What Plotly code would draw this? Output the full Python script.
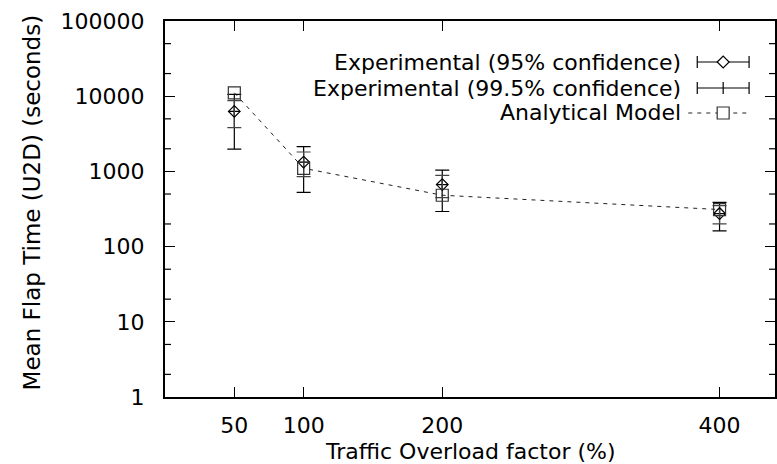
import math
import plotly.graph_objects as go

# ---- data ----
overload = [50, 100, 200, 400]
exp_mean = [6280, 1330, 668, 275]
ci95_half = [2450, 480, 220, 75]
ci995_half = [4300, 805, 375, 113]
model_vals = [11100, 1100, 482, 311]

x_ticks = [50, 100, 200, 400]
y_minor = [2, 5, 20, 50, 200, 500, 2000, 5000, 20000, 50000]

legend_labels = ["Experimental (95% confidence)",
                 "Experimental (99.5% confidence)",
                 "Analytical Model"]
x_title = "Traffic Overload factor (%)"
y_title = "Mean Flap Time (U2D) (seconds)"

FONT = "DejaVu Sans, Liberation Sans, Arial, sans-serif"
FS = 22
W, H = 777, 464
L, R, T, B = 165, 0, 21, 67
PW, PH = W - L - R, H - T - B
Y_LOG_RANGE = [0, 5]

fig = go.Figure()

fig.add_trace(go.Scatter(
    x=overload, y=exp_mean, mode="markers", name=legend_labels[1],
    marker=dict(symbol="cross-thin-open", size=8, color="black",
                line=dict(color="black", width=1.2)),
    error_y=dict(type="data", array=ci995_half, symmetric=True,
                 color="black", thickness=1.2, width=7),
    showlegend=False))

fig.add_trace(go.Scatter(
    x=overload, y=exp_mean, mode="markers", name=legend_labels[0],
    marker=dict(symbol="diamond-open", size=9, color="black",
                line=dict(color="black", width=1.2)),
    error_y=dict(type="data", array=ci95_half, symmetric=True,
                 color="#444444", thickness=1.2, width=7),
    showlegend=False))

fig.add_trace(go.Scatter(
    x=overload, y=model_vals, mode="lines+markers", name=legend_labels[2],
    line=dict(color="#222222", width=1, dash="4px,5px"),
    marker=dict(symbol="square-open", size=12, color="#333333",
                line=dict(color="#333333", width=1.2)),
    showlegend=False))

# ---- helpers: pixel -> paper ----
def px(xp):
    return (xp - L) / PW

def py(yp):
    return 1 - (yp - T) / PH

shapes = []
annos = []

# ---- minor log ticks (2 and 5 of each decade) on both frames ----
for v in y_minor:
    yv = (math.log10(v) - Y_LOG_RANGE[0]) / (Y_LOG_RANGE[1] - Y_LOG_RANGE[0])
    shapes.append(dict(type="line", xref="paper", yref="paper",
                       x0=0, x1=6 / PW, y0=yv, y1=yv,
                       line=dict(color="black", width=1.2)))
    shapes.append(dict(type="line", xref="paper", yref="paper",
                       x0=1 - 6 / PW, x1=1, y0=yv, y1=yv,
                       line=dict(color="black", width=1.2)))

# ---- manual gnuplot-style key (text left, sample right) ----
rows = [62, 88, 113]
text_right = 684
s0, s1, sc = 699, 751, 725

for i, lab in enumerate(legend_labels):
    yy = rows[i]
    annos.append(dict(xref="paper", yref="paper", x=px(text_right), y=py(yy),
                      text=lab, showarrow=False, xanchor="right", yanchor="middle",
                      borderpad=0,
                      font=dict(family=FONT, size=FS, color="black")))
for i in range(2):
    yy = rows[i]
    shapes.append(dict(type="line", xref="paper", yref="paper",
                       x0=px(s0), x1=px(s1), y0=py(yy), y1=py(yy),
                       line=dict(color="black", width=1.2)))
    for xe in (s0, s1):
        shapes.append(dict(type="line", xref="paper", yref="paper",
                           x0=px(xe), x1=px(xe), y0=py(yy - 6), y1=py(yy + 6),
                           line=dict(color="black", width=1.2)))
yy = rows[0]
shapes.append(dict(type="path", xref="paper", yref="paper",
                   path=f"M {px(sc-6)} {py(yy)} L {px(sc)} {py(yy-6)} L {px(sc+6)} {py(yy)} L {px(sc)} {py(yy+6)} Z",
                   fillcolor="white", line=dict(color="black", width=1.2)))
yy = rows[1]
shapes.append(dict(type="line", xref="paper", yref="paper",
                   x0=px(sc), x1=px(sc), y0=py(yy - 6), y1=py(yy + 6),
                   line=dict(color="black", width=1.2)))
yy = rows[2]
shapes.append(dict(type="line", xref="paper", yref="paper",
                   x0=px(690), x1=px(752), y0=py(yy), y1=py(yy),
                   line=dict(color="#222222", width=1, dash="4px,5px")))
shapes.append(dict(type="rect", xref="paper", yref="paper",
                   x0=px(sc - 6), x1=px(sc + 6), y0=py(yy - 6), y1=py(yy + 6),
                   fillcolor="white", line=dict(color="#333333", width=1.2)))

# ---- axis titles as annotations for exact placement ----
annos.append(dict(xref="paper", yref="paper", x=px(471), y=py(451),
                  text=x_title, showarrow=False, xanchor="center", yanchor="middle",
                  borderpad=0,
                  font=dict(family=FONT, size=FS, color="black")))
annos.append(dict(xref="paper", yref="paper", x=px(32), y=py(202),
                  text=y_title, showarrow=False, textangle=-90,
                  xanchor="center", yanchor="middle", borderpad=0,
                  font=dict(family=FONT, size=23, color="black")))

fig.update_layout(
    width=W, height=H,
    margin=dict(l=L, r=R, t=T, b=B, pad=0),
    paper_bgcolor="white", plot_bgcolor="white",
    font=dict(family=FONT, size=FS, color="black"),
    shapes=shapes, annotations=annos,
    showlegend=False,
)

fig.update_xaxes(
    range=[0, 440], tickmode="array", tickvals=x_ticks,
    ticktext=[str(v) for v in x_ticks],
    ticks="inside", ticklen=10, tickwidth=1.2, tickcolor="black",
    showline=True, linewidth=2, linecolor="black", mirror="ticks",
    showgrid=False, zeroline=False, ticklabelstandoff=8,
)

fig.update_yaxes(
    type="log", range=Y_LOG_RANGE, tickmode="linear", tick0=0, dtick=1,
    tickformat="d",
    ticks="inside", ticklen=10, tickwidth=1.2, tickcolor="black",
    showline=True, linewidth=2, linecolor="black", mirror="ticks",
    showgrid=False, zeroline=False, ticklabelstandoff=14,
)

fig.write_html(
    "out.html",
    config={"displayModeBar": False},
    post_script="document.body.style.margin='0';document.body.style.overflow='hidden';",
)
